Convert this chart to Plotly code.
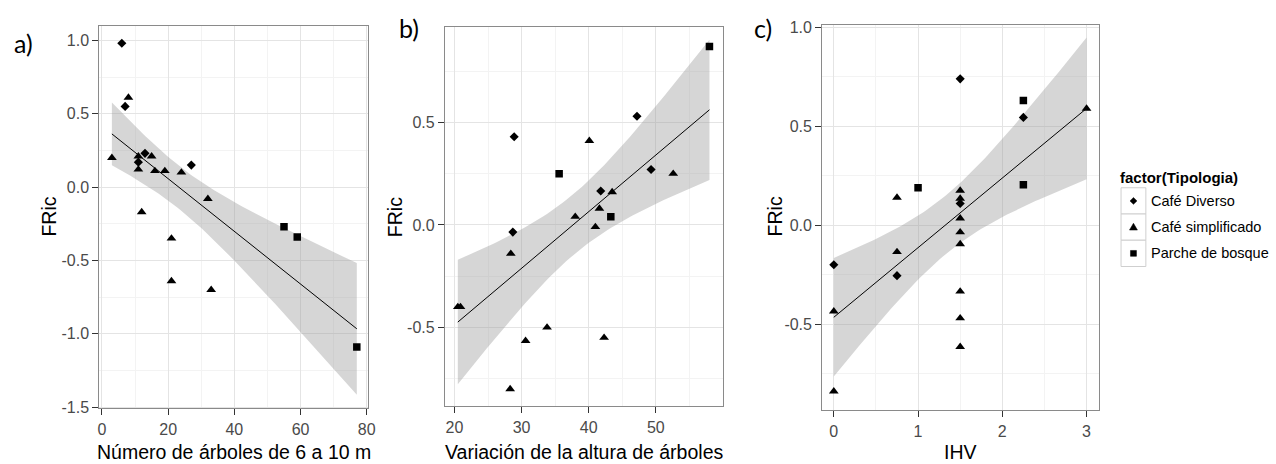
import numpy as np
import plotly.graph_objects as go

# Tipologia codes: D = Café Diverso, S = Café simplificado, P = Parche de bosque
tipo_codes = ["D", "S", "P"]
tipo_labels = {"D": "Café Diverso", "S": "Café simplificado", "P": "Parche de bosque"}
tipo_symbols = {"D": "diamond", "S": "triangle-up", "P": "square"}
tipo_sizes = {"D": 7, "S": 8.5, "P": 7.5}

# a) FRic vs número de árboles de 6 a 10 m
arboles_x = [6, 7, 11, 13, 27,
             3, 8, 11, 11, 15, 16, 19, 24, 32, 12, 21, 21, 33,
             55, 59, 77]
arboles_fric = [0.98, 0.55, 0.17, 0.23, 0.15,
                0.20, 0.61, 0.21, 0.12, 0.21, 0.11, 0.11, 0.10, -0.08, -0.17, -0.35, -0.64, -0.70,
                -0.27, -0.34, -1.09]
arboles_tipo = ["D"] * 5 + ["S"] * 13 + ["P"] * 3

# b) FRic vs variación de la altura de árboles
altura_x = [47.2, 28.9, 49.3, 41.8, 28.7,
            40.1, 52.6, 43.5, 41.6, 38.0, 41.0, 28.4, 20.5, 20.9, 33.8, 30.6, 42.3, 28.3,
            58.0, 35.6, 43.3]
altura_fric = [0.53, 0.43, 0.27, 0.165, -0.035,
               0.41, 0.25, 0.16, 0.08, 0.04, -0.01, -0.14, -0.40, -0.40, -0.50, -0.565, -0.55, -0.80,
               0.87, 0.25, 0.04]
altura_tipo = ["D"] * 5 + ["S"] * 13 + ["P"] * 3

# c) FRic vs IHV
ihv_x = [1.5, 2.25, 1.5, 0.75, 0.0,
         0.75, 1.5, 1.5, 1.5, 1.5, 1.5, 1.5, 1.5, 1.5, 0.75, 0.0, 0.0, 3.0,
         2.25, 1.0, 2.25]
ihv_fric = [0.74, 0.545, 0.11, -0.255, -0.20,
            0.14, 0.175, 0.135, 0.035, -0.035, -0.095, -0.335, -0.47, -0.615, -0.135, -0.435, -0.84, 0.59,
            0.63, 0.19, 0.205]
ihv_tipo = ["D"] * 5 + ["S"] * 13 + ["P"] * 3

T_975_DF19 = 2.093  # Student t quantile for a 95 % interval with 19 df


def lm_band(x, y, n_grid=80):
    """Least-squares line with its 95 % confidence band (like geom_smooth(method = lm))."""
    x = np.asarray(x, float)
    y = np.asarray(y, float)
    n = len(x)
    xm = x.mean()
    sxx = ((x - xm) ** 2).sum()
    slope = ((x - xm) * (y - y.mean())).sum() / sxx
    icpt = y.mean() - slope * xm
    resid = y - (icpt + slope * x)
    s = np.sqrt((resid ** 2).sum() / (n - 2))
    gx = np.linspace(x.min(), x.max(), n_grid)
    fit = icpt + slope * gx
    se = s * np.sqrt(1.0 / n + (gx - xm) ** 2 / sxx)
    return gx, fit, fit - T_975_DF19 * se, fit + T_975_DF19 * se


W, H = 1276, 464
FONT = "Liberation Sans"


def px(xp):
    return xp / W


def py(yp):
    return 1 - yp / H


panels = [
    dict(x=arboles_x, y=arboles_fric, t=arboles_tipo,
         px=(98, 369), py=(21, 414), xr=[-0.8, 80.5], yr=[-1.508, 1.095],
         xt=[0, 20, 40, 60, 80], yt=[-1.5, -1.0, -0.5, 0.0, 0.5, 1.0],
         xtitle="Número de árboles de 6 a 10 m", tag="a)", tagpos=(22, 38), ytx=47),
    dict(x=altura_x, y=altura_fric, t=altura_tipo,
         px=(446, 726), py=(22, 412), xr=[18.57, 60.0], yr=[-0.885, 0.963],
         xt=[20, 30, 40, 50], yt=[-0.5, 0.0, 0.5],
         xtitle="Variación de la altura de árboles", tag="b)", tagpos=(410, 23), ytx=396),
    dict(x=ihv_x, y=ihv_fric, t=ihv_tipo,
         px=(826, 1105), py=(20, 416), xr=[-0.138, 3.15], yr=[-0.936, 1.01],
         xt=[0, 1, 2, 3], yt=[-0.5, 0.0, 0.5, 1.0],
         xtitle="IHV", tag="c)", tagpos=(766, 23), ytx=778),
]

fig = go.Figure()
annotations = []
shapes = []
layout_axes = {}

for i, p in enumerate(panels, start=1):
    sfx = "" if i == 1 else str(i)
    xa, ya = "x" + sfx, "y" + sfx

    gx, fit, lo, hi = lm_band(p["x"], p["y"])
    fig.add_trace(go.Scatter(
        x=np.concatenate([gx, gx[::-1]]), y=np.concatenate([hi, lo[::-1]]),
        fill="toself", fillcolor="rgba(153,153,153,0.4)", line=dict(width=0),
        mode="lines", hoverinfo="skip", xaxis=xa, yaxis=ya))
    fig.add_trace(go.Scatter(
        x=gx, y=fit, mode="lines", line=dict(color="black", width=1),
        xaxis=xa, yaxis=ya))

    xs = np.asarray(p["x"], float)
    ys = np.asarray(p["y"], float)
    ts = np.asarray(p["t"])
    for code in tipo_codes:
        m = ts == code
        fig.add_trace(go.Scatter(
            x=xs[m], y=ys[m], mode="markers", name=tipo_labels[code],
            marker=dict(symbol=tipo_symbols[code], size=tipo_sizes[code], color="black",
                        line=dict(width=0)),
            xaxis=xa, yaxis=ya))

    x0, x1 = p["px"]
    y0, y1 = p["py"]
    xt = p["xt"]
    yt = p["yt"]
    xminor = [(a + b) / 2 for a, b in zip(xt[:-1], xt[1:])]
    yminor = [(a + b) / 2 for a, b in zip(yt[:-1], yt[1:])]
    common = dict(showline=True, linecolor="#8a8a8a", linewidth=1, mirror=True,
                  ticks="outside", ticklen=6, tickwidth=1, tickcolor="#333333",
                  showgrid=True, gridcolor="#e4e4e4", gridwidth=1, zeroline=False,
                  tickfont=dict(family=FONT, size=16, color="#4a4a4a"))
    layout_axes["xaxis" + sfx] = dict(
        common, domain=[px(x0), px(x1)], range=p["xr"], tickvals=xt,
        ticktext=[f"{v:g}" for v in xt], anchor=ya,
        minor=dict(tickvals=xminor + [xt[0] - (xt[1] - xt[0]) / 2, xt[-1] + (xt[1] - xt[0]) / 2],
                   showgrid=True, gridcolor="#f3f3f3", ticks=""))
    layout_axes["yaxis" + sfx] = dict(
        common, domain=[py(y1), py(y0)], range=p["yr"], tickvals=yt,
        ticktext=[f"{v:.1f}" for v in yt], anchor=xa,
        minor=dict(tickvals=yminor + [yt[0] - (yt[1] - yt[0]) / 2, yt[-1] + (yt[1] - yt[0]) / 2],
                   showgrid=True, gridcolor="#f3f3f3", ticks=""))

    annotations.append(dict(text=p["xtitle"], x=px((x0 + x1) / 2), y=py(459),
                            xref="paper", yref="paper", showarrow=False,
                            xanchor="center", yanchor="middle",
                            font=dict(family=FONT, size=19.5, color="black")))
    annotations.append(dict(text="FRic", x=px(p["ytx"]), y=py(217), textangle=-90,
                            xref="paper", yref="paper", showarrow=False,
                            xanchor="center", yanchor="middle",
                            font=dict(family=FONT, size=19.5, color="black")))
    tx, ty = p["tagpos"]
    annotations.append(dict(text=p["tag"], x=px(tx), y=py(ty),
                            xref="paper", yref="paper", showarrow=False,
                            xanchor="center", yanchor="middle",
                            font=dict(family="Lato", size=25, color="black")))

# Legend for the three typologies: title, keyed boxes and labels
annotations.append(dict(text="<b>factor(Tipologia)</b>", x=px(1124), y=py(176),
                        xref="paper", yref="paper", showarrow=False,
                        xanchor="left", yanchor="middle",
                        font=dict(family=FONT, size=15, color="black")))
key_glyphs = {
    "D": [(-3.5, 0), (0, -3.5), (3.5, 0), (0, 3.5)],
    "S": [(-4, 3), (4, 3), (0, -4)],
    "P": [(-3, -3), (3, -3), (3, 3), (-3, 3)],
}
for r, code in enumerate(tipo_codes):
    top = 187 + 27 * r
    cx, cy = 1139.5, top + 13.5
    shapes.append(dict(type="rect", xref="paper", yref="paper",
                       x0=px(1127), x1=px(1152), y0=py(top + 27), y1=py(top),
                       line=dict(color="#cfcfcf", width=1), fillcolor="white", layer="below"))
    path = "M " + " L ".join(f"{px(cx + dx):.5f},{py(cy + dy):.5f}"
                             for dx, dy in key_glyphs[code]) + " Z"
    shapes.append(dict(type="path", xref="paper", yref="paper", path=path,
                       fillcolor="black", line=dict(color="black", width=0.5)))
    annotations.append(dict(text=tipo_labels[code], x=px(1155), y=py(cy),
                            xref="paper", yref="paper", showarrow=False,
                            xanchor="left", yanchor="middle",
                            font=dict(family=FONT, size=14.5, color="black")))

fig.update_layout(
    width=W, height=H, margin=dict(l=0, r=0, t=0, b=0),
    paper_bgcolor="white", plot_bgcolor="white", showlegend=False,
    annotations=annotations, shapes=shapes,
    **layout_axes,
)

fig.write_html("out.html")
